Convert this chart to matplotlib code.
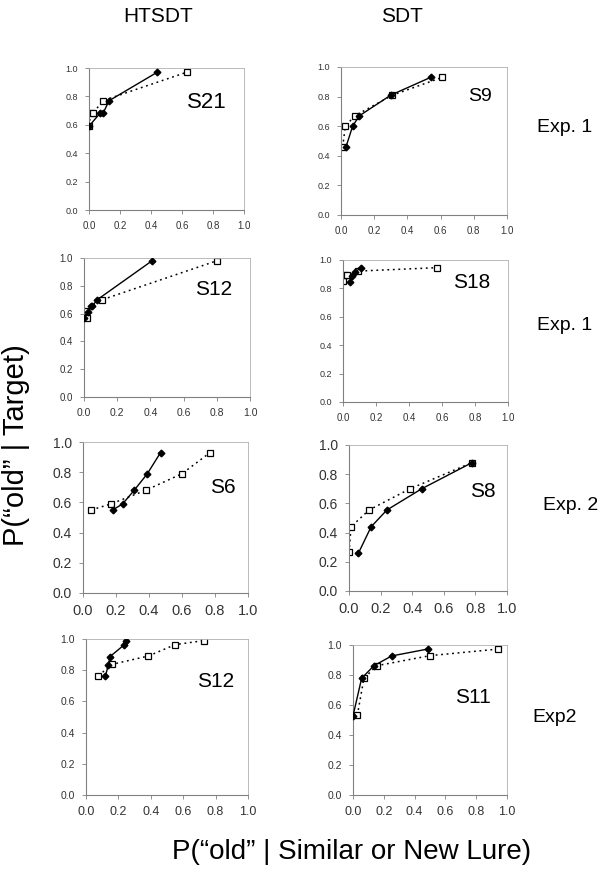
import matplotlib.pyplot as plt

plt.rcParams['font.family'] = ['Liberation Sans', 'DejaVu Sans']

# ROC points: filled diamonds (solid line) and open squares (dotted line)
s21_solid_x = [0.00, 0.07, 0.09, 0.13, 0.44]
s21_solid_y = [0.59, 0.68, 0.68, 0.77, 0.97]
s21_dotted_x = [0.00, 0.01, 0.025, 0.09, 0.63]
s21_dotted_y = [0.59, 0.68, 0.68, 0.77, 0.97]

s9_solid_x = [0.03, 0.07, 0.11, 0.30, 0.54]
s9_solid_y = [0.46, 0.60, 0.67, 0.81, 0.93]
s9_dotted_x = [0.01, 0.026, 0.083, 0.31, 0.61]
s9_dotted_y = [0.46, 0.60, 0.67, 0.81, 0.93]

s12a_solid_x = [0.00, 0.026, 0.04, 0.05, 0.08, 0.41]
s12a_solid_y = [0.57, 0.61, 0.655, 0.655, 0.70, 0.98]
s12a_dotted_x = [0.016, 0.01, 0.11, 0.80]
s12a_dotted_y = [0.57, 0.62, 0.70, 0.98]

s18_solid_x = [0.04, 0.056, 0.073, 0.107]
s18_solid_y = [0.845, 0.887, 0.915, 0.944]
s18_dotted_x = [0.00, 0.012, 0.026, 0.093, 0.57]
s18_dotted_y = [0.85, 0.892, 0.892, 0.922, 0.946]

s6_solid_x = [0.18, 0.24, 0.31, 0.39, 0.47]
s6_solid_y = [0.55, 0.59, 0.68, 0.79, 0.93]
s6_dotted_x = [0.05, 0.17, 0.38, 0.60, 0.77]
s6_dotted_y = [0.55, 0.59, 0.68, 0.79, 0.93]

s8_solid_x = [0.06, 0.14, 0.24, 0.46, 0.78]
s8_solid_y = [0.26, 0.44, 0.555, 0.70, 0.88]
s8_dotted_x = [0.00, 0.013, 0.127, 0.386, 0.78]
s8_dotted_y = [0.265, 0.44, 0.555, 0.70, 0.88]

s12b_solid_x = [0.12, 0.138, 0.148, 0.235, 0.247]
s12b_solid_y = [0.763, 0.833, 0.887, 0.962, 0.987]
s12b_dotted_x = [0.076, 0.163, 0.385, 0.551, 0.73]
s12b_dotted_y = [0.765, 0.838, 0.891, 0.964, 0.99]

s11_solid_x = [0.00, 0.056, 0.136, 0.251, 0.485]
s11_solid_y = [0.527, 0.778, 0.862, 0.927, 0.973]
s11_dotted_x = [0.028, 0.071, 0.154, 0.50, 0.944]
s11_dotted_y = [0.531, 0.778, 0.862, 0.929, 0.973]

ticks = [0.0, 0.2, 0.4, 0.6, 0.8, 1.0]
tick_labels = ['0.0', '0.2', '0.4', '0.6', '0.8', '1.0']

W, H = 612, 874
fig = plt.figure(figsize=(W / 100, H / 100), dpi=100)

# (x0, x1, ytop, ybottom) in pixels, label, label pos, label size, ytick size, xtick size
panels = [
    ((89, 244, 68, 210), 'S21', (0.76, 0.76), 16, 6.5, 7,
     s21_solid_x, s21_solid_y, s21_dotted_x, s21_dotted_y),
    ((341, 507, 67, 215), 'S9', (0.84, 0.80), 14, 6.5, 7,
     s9_solid_x, s9_solid_y, s9_dotted_x, s9_dotted_y),
    ((84, 250, 258, 397), 'S12', (0.78, 0.77), 15, 7, 7.5,
     s12a_solid_x, s12a_solid_y, s12a_dotted_x, s12a_dotted_y),
    ((343, 508, 260, 402), 'S18', (0.78, 0.84), 15, 6.5, 7,
     s18_solid_x, s18_solid_y, s18_dotted_x, s18_dotted_y),
    ((83, 248, 442, 593), 'S6', (0.85, 0.70), 15, 10, 10.5,
     s6_solid_x, s6_solid_y, s6_dotted_x, s6_dotted_y),
    ((349, 507, 445, 591), 'S8', (0.85, 0.68), 15, 10, 10.5,
     s8_solid_x, s8_solid_y, s8_dotted_x, s8_dotted_y),
    ((86, 248, 639, 795), 'S12', (0.80, 0.73), 15, 7.5, 9,
     s12b_solid_x, s12b_solid_y, s12b_dotted_x, s12b_dotted_y),
    ((353, 507, 645, 795), 'S11', (0.78, 0.65), 15, 7.5, 9,
     s11_solid_x, s11_solid_y, s11_dotted_x, s11_dotted_y),
]

for (x0, x1, yt, yb), name, pos, nsize, ysize, xsize, sx, sy, dx, dy in panels:
    ax = fig.add_axes([x0 / W, 1 - yb / H, (x1 - x0) / W, (yb - yt) / H])
    ax.plot(dx, dy, linestyle=(0, (1.2, 2.4)), color='black', lw=1.1, marker='s',
            ms=4.3, mfc='white', mec='black', mew=0.9, zorder=2)
    ax.plot(sx, sy, linestyle='-', color='black', lw=1.0, marker='D', ms=3.4,
            mfc='black', mec='black', zorder=3)
    ax.set_xlim(0, 1)
    ax.set_ylim(0, 1)
    ax.set_xticks(ticks)
    ax.set_yticks(ticks)
    ax.set_xticklabels(tick_labels, fontsize=xsize, color='#333333')
    ax.set_yticklabels(tick_labels, fontsize=ysize, color='#333333')
    ax.tick_params(direction='out', length=3, width=0.6, color='#808080', pad=5)
    for side in ['left', 'bottom']:
        ax.spines[side].set_color('#808080')
        ax.spines[side].set_linewidth(0.8)
    for side in ['top', 'right']:
        ax.spines[side].set_color('#b0b0b0')
        ax.spines[side].set_linewidth(0.6)
    ax.text(pos[0], pos[1], name, fontsize=nsize, ha='center', va='center',
            transform=ax.transAxes)

# column titles, row labels and shared axis labels
fig.text(158 / W, 1 - 16 / H, 'HTSDT', fontsize=15, ha='center', va='center')
fig.text(402 / W, 1 - 17 / H, 'SDT', fontsize=15, ha='center', va='center')

row_labels = ['Exp. 1', 'Exp. 1', 'Exp. 2', 'Exp2']
row_pos = [(565, 128), (565, 325), (571, 505), (555, 718)]
for lab, (px, py) in zip(row_labels, row_pos):
    fig.text(px / W, 1 - py / H, lab, fontsize=14, ha='center', va='center')

fig.text(352 / W, 1 - 852 / H, 'P(\u201cold\u201d | Similar or New Lure)',
         fontsize=20, ha='center', va='center')
fig.text(16 / W, 1 - 445 / H, 'P(\u201cold\u201d | Target)', fontsize=21,
         ha='center', va='center', rotation=90)

fig.savefig('out.png', dpi=100)
